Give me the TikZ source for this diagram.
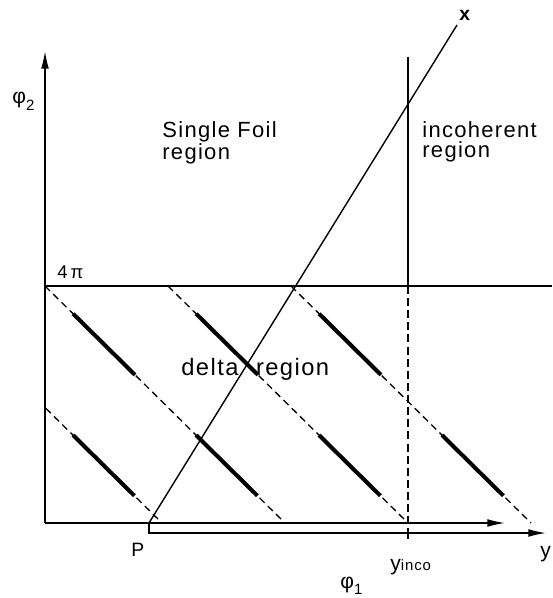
\documentclass[tikz,border=0pt]{standalone}
\usepackage{fontspec}
\setmainfont{Liberation Sans}[LetterSpace=6]
\usetikzlibrary{arrows.meta,calc}

\begin{document}
\begin{tikzpicture}[x=0.02cm, y=-0.02cm,
    fine/.style={line width=0.8pt},
    dashline/.style={line width=0.75pt, dash pattern=on 4pt off 2.6pt},
    deltaseg/.style={line width=2.3pt},
    axisarr/.style={line width=0.8pt, -{Latex[length=10pt,width=4.4pt]}},
    lbl/.style={inner sep=0pt, align=left, font=\fontsize{12.5}{11.5}\selectfont}
]
\useasboundingbox (0,0) rectangle (552,598);

% corner points
\coordinate (O) at (45,523);
\coordinate (phi2top) at (45,51);
\coordinate (phi1end) at (505,523);
\coordinate (P) at (149,523);
\coordinate (Pdown) at (149,533);
\coordinate (yend) at (546,533);
\coordinate (fpleft) at (45,286);
\coordinate (fpright) at (552,286);
\coordinate (incotop) at (408,57);
\coordinate (incomid) at (408,286);
\coordinate (incobot) at (408,533);
\coordinate (incotick) at (408,539);
\coordinate (xend) at (457,25);

% delta lines
\begin{scope}
  \clip (45,286) rectangle (552,524);
  \foreach \k in {-1,...,2}{
    \coordinate (a\k) at ({45+123*\k},286);
    \coordinate (b\k) at ({285+123*\k},523);
    \draw[dashline] (a\k) -- (b\k);
    \draw[deltaseg] ($(a\k)!0.117!(b\k)$) -- ($(a\k)!0.375!(b\k)$);
    \draw[deltaseg] ($(a\k)!0.629!(b\k)$) -- ($(a\k)!0.885!(b\k)$);
  }
\end{scope}

% axes
\draw[axisarr] (O) -- (phi2top);
\draw[axisarr] (O) -- (phi1end);
\draw[axisarr] (P) -- (Pdown) -- (yend);
\draw[fine] (fpleft) -- (fpright);
\draw[fine] (incotop) -- (incomid);
\draw[dashline, dash pattern=on 4.5pt off 2.4pt] (incomid) -- (incobot);
\draw[fine] (incobot) -- (incotick);
\draw[fine] (P) -- (xend);

% labels
\node[lbl, anchor=north west] (single) at (162,121) {Single Foil\\region};
\node[lbl, anchor=north west] (incoh) at (422,121) {incoherent\\region};
\node[lbl, anchor=base west, font=\fontsize{13.5}{12}\selectfont] (delta) at (181,375) {delta\hspace{10pt}region};
\node[lbl, anchor=base west, font=\fontsize{10.5}{12}\selectfont] (fourpi) at (57,278) {4\,π};
\node[lbl, anchor=base west, font=\fontsize{11}{12}\selectfont] (plbl) at (131,556) {P};
\node[lbl, anchor=base west, font=\fontsize{12}{12}\selectfont] (yinco) at (390,570) {y{\fontsize{8.5}{10}\selectfont inco}};
\node[lbl, anchor=base west, font=\fontsize{12}{12}\selectfont] (ylbl) at (540,557) {y};
\node[lbl, anchor=base west, font=\fontsize{11}{12}\selectfont\bfseries] (xlbl) at (459,21) {x};
\node[lbl, anchor=base west, font=\fontsize{12}{12}\selectfont] (phione) at (340,588) {φ\raisebox{-3.5pt}{\fontsize{8.5}{10}\selectfont 1}};
\node[lbl, anchor=base west, font=\fontsize{12}{12}\selectfont] (phitwo) at (12,104) {φ\raisebox{-3.5pt}{\fontsize{8.5}{10}\selectfont 2}};
\end{tikzpicture}
\end{document}
